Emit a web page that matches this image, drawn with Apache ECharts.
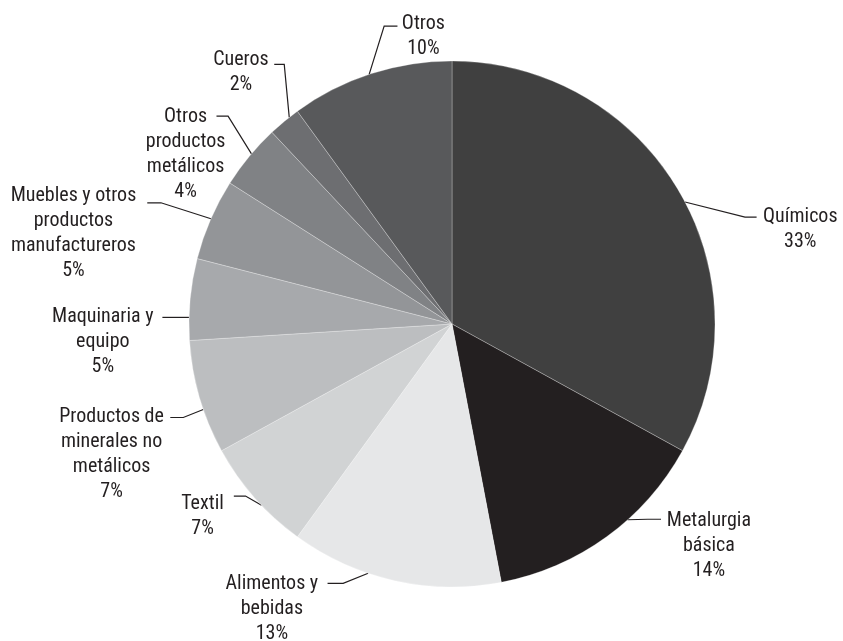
<!DOCTYPE html>
<html>
<head>
<meta charset="utf-8">
<script src="https://cdn.jsdelivr.net/npm/echarts@6/dist/echarts.min.js"></script>
<style>
  html, body { margin: 0; padding: 0; background: #ffffff; }
  #chart { width: 843px; height: 641px; }
</style>
</head>
<body>
<div id="chart"></div>
<script>
// Sector names (with the line breaks used in the labels), clockwise from 12 o'clock
const categories = [
  'Químicos',
  'Metalurgia\nbásica',
  'Alimentos y\nbebidas',
  'Textil',
  'Productos de\nminerales no\nmetálicos',
  'Maquinaria y\nequipo',
  'Muebles y otros\nproductos\nmanufactureros',
  'Otros\nproductos\nmetálicos',
  'Cueros',
  'Otros'
];

// Share of each sector, in percent
const shares = [33, 14, 13, 7, 7, 5, 5, 4, 2, 10];

// Grey ramp for the slices
const sliceColors = [
  '#404040', '#231f20', '#e6e7e8', '#d1d3d4', '#bcbec0',
  '#a7a9ac', '#939598', '#808285', '#6d6e71', '#58595b'
];

// Leader-line shape for each label:
// frac  – where along the slice's arc the line leaves the pie (0 = start, 1 = end)
// elbow – offset of the bend from that point
// run   – length of the short horizontal tail
// text  – offset of the first text line's centre from the tail end
const guides = [
  { frac: 0.525, elbow: [60, 15],      run: 11.6, text: [43.7, 0] },
  { frac: 0.383, elbow: [20, -0.5],    run: 13.4, text: [47.9, 2] },
  { frac: 0.628, elbow: [-25, 10],     run: 15.6, text: [-55.7, 0.7] },
  { frac: 0.413, elbow: [-16, -9.3],   run: 11.7, text: [-31.3, 7.5] },
  { frac: 0.39,  elbow: [-20, 8],      run: 13,   text: [-58.7, -0.3] },
  { frac: 0.28,  elbow: [-13, 0],      run: 13.7, text: [-59.6, 0] },
  { frac: 0.51,  elbow: [-50, -16],    run: 13.7, text: [-73.8, -6.5] },
  { frac: 0.55,  elbow: [-23.4, -37.6],run: 11.6, text: [-30.9, 1] },
  { frac: 0.69,  elbow: [-5, -53],     run: 10,   text: [-33.3, -4.3] },
  { frac: 0.49,  elbow: [15, -48.3],   run: 13.3, text: [25.9, -1.7] }
];

const LINE_HEIGHT = 25;
const FONT = '"Roboto Condensed", "Liberation Sans Narrow", "DejaVu Sans Condensed", sans-serif';

const chart = echarts.init(document.getElementById('chart'), null, { renderer: 'canvas' });

function sliceLayout(i) {
  return chart.getModel().getSeriesByIndex(0).getData().getItemLayout(i);
}

const option = {
  animation: false,
  backgroundColor: '#ffffff',
  series: [{
    type: 'pie',
    center: [452, 324],
    radius: 263,
    startAngle: 90,
    clockwise: true,
    avoidLabelOverlap: false,
    silent: true,
    data: categories.map((name, i) => ({
      name: name,
      value: shares[i],
      itemStyle: { color: sliceColors[i] }
    })),
    itemStyle: { borderColor: 'rgba(255,255,255,0.45)', borderWidth: 0.6 },
    label: {
      show: true,
      position: 'outside',
      formatter: '{b}\n{c}%',
      fontFamily: FONT,
      fontSize: 20,
      lineHeight: LINE_HEIGHT,
      color: '#231f20'
    },
    labelLine: {
      show: true,
      length: 10,
      length2: 10,
      lineStyle: { color: '#231f20', width: 1.2 }
    },
    labelLayout: function (p) {
      const g = guides[p.dataIndex];
      const L = sliceLayout(p.dataIndex);
      const a = L.startAngle + g.frac * (L.endAngle - L.startAngle);
      const sx = L.cx + L.r * Math.cos(a);
      const sy = L.cy + L.r * Math.sin(a);
      const ex = sx + g.elbow[0];
      const ey = sy + g.elbow[1];
      const side = g.text[0] >= 0 ? 1 : -1;
      const tx = ex + side * g.run;
      const ty = ey;
      return {
        x: tx + g.text[0],
        y: ty + g.text[1] - LINE_HEIGHT / 2,
        align: 'center',
        verticalAlign: 'top',
        labelLinePoints: [[sx, sy], [ex, ey], [tx, ty]]
      };
    }
  }]
};

chart.setOption(option);
</script>
</body>
</html>
